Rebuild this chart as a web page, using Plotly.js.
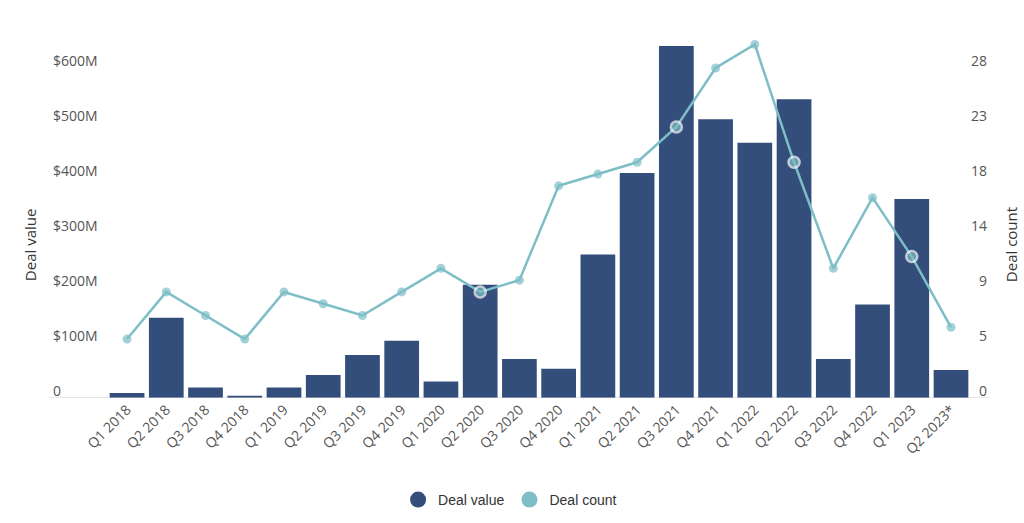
<!DOCTYPE html>
<html>
<head>
<meta charset="utf-8">
<script src="https://cdn.plot.ly/plotly-3.0.1.min.js"></script>
<style>html,body{margin:0;padding:0;background:#fff;}#chart{width:1024px;height:523px;}</style>
</head>
<body>
<div id="chart"></div>
<script>
const quarters = ['Q1 2018','Q2 2018','Q3 2018','Q4 2018','Q1 2019','Q2 2019','Q3 2019','Q4 2019',
  'Q1 2020','Q2 2020','Q3 2020','Q4 2020','Q1 2021','Q2 2021','Q3 2021','Q4 2021',
  'Q1 2022','Q2 2022','Q3 2022','Q4 2022','Q1 2023','Q2 2023*'];
const dealValue = [9, 146, 19, 4, 19, 42, 78, 104, 30, 206, 71, 53, 261, 409, 640, 507, 464, 543, 71, 170, 362, 51];
const dealCount = [5, 9, 7, 5, 9, 8, 7, 9, 11, 9, 10, 18, 19, 20, 23, 28, 30, 20, 11, 17, 12, 6];
const valueTicks = [0, 100, 200, 300, 400, 500, 600];
const valueTickText = ['0', '$100M', '$200M', '$300M', '$400M', '$500M', '$600M'];
const countTickText = ['0', '5', '9', '14', '18', '23', '28'];
const countMax = 28;
const valueMax = 600;

const BAR = '#344e7b';
const TEAL = '#7dbec7';
const yTop = 669.1;
const y2Top = countMax * yTop / valueMax;
const countTicks = valueTicks.map(v => v * countMax / valueMax);

// points that sit inside a bar get a white ring
const inside = dealCount.map((c, i) => c * valueMax / countMax < dealValue[i]);

const traces = [
  {type: 'bar', x: quarters, y: dealValue, marker: {color: BAR}, showlegend: false, hoverinfo: 'x+y'},
  {type: 'scatter', mode: 'lines+markers', x: quarters, y: dealCount, yaxis: 'y2',
   line: {color: TEAL, width: 2.5},
   marker: {color: TEAL, size: inside.map(b => b ? 11 : 9),
            line: {color: '#ffffff', width: inside.map(b => b ? 2.5 : 0)}},
   showlegend: false},
  {type: 'scatter', mode: 'markers', x: [null], y: [null], name: 'Deal value',
   marker: {color: BAR, size: 16, symbol: 'circle'}},
  {type: 'scatter', mode: 'markers', x: [null], y: [null], name: 'Deal count', yaxis: 'y2',
   marker: {color: TEAL, size: 16, symbol: 'circle'}}
];

const tickFont = {family: 'Open Sans, sans-serif', size: 14, color: '#555'};
const layout = {
  width: 1024, height: 523,
  margin: {l: 49, r: 34, t: 30, b: 125},
  paper_bgcolor: '#fff', plot_bgcolor: '#fff',
  bargap: 0.115,
  xaxis: {domain: [0.0621, 0.9794], type: 'category', range: [-0.5, quarters.length - 0.5],
          autorange: false, tickangle: -45, tickfont: tickFont, automargin: false,
          showgrid: false, zeroline: false, showline: false, ticks: '', fixedrange: true},
  yaxis: {range: [0, yTop], autorange: false, tickvals: valueTicks, ticktext: valueTickText, tickfont: tickFont,
          showgrid: false, zeroline: false, showline: false, ticks: '', automargin: false,
          anchor: 'free', position: 0, ticklabelposition: 'inside', ticklabelstandoff: 0,
          ticklabelshift: -7, ticklabeloverflow: 'allow'},
  yaxis2: {range: [0, y2Top], autorange: false, overlaying: 'y', side: 'right', tickvals: countTicks, ticktext: countTickText,
           tickfont: tickFont, showgrid: false, zeroline: false, showline: false, ticks: '', automargin: false,
           anchor: 'free', position: 1, ticklabelposition: 'inside', ticklabelstandoff: 0,
           ticklabelshift: -7, ticklabeloverflow: 'allow'},
  showlegend: true,
  legend: {orientation: 'h', x: 0.49, xanchor: 'center', yref: 'container', y: 0.044, yanchor: 'middle',
           font: {family: 'Liberation Sans, Arial, sans-serif', size: 14, color: '#333'},
           itemwidth: 30, traceorder: 'normal'},
  shapes: [{type: 'line', xref: 'paper', yref: 'y', x0: 0, x1: 1, y0: 0, y1: 0,
            line: {color: '#cccccc', width: 1}}],
  annotations: [
    {text: 'Deal value', xref: 'paper', yref: 'paper', x: -0.0202, y: 0.418, textangle: -90,
     xanchor: 'center', yanchor: 'middle',
     showarrow: false, font: {family: 'Open Sans, sans-serif', size: 15, color: '#333'}},
    {text: 'Deal count', xref: 'paper', yref: 'paper', x: 1.0223, y: 0.418, textangle: -90,
     xanchor: 'center', yanchor: 'middle',
     showarrow: false, font: {family: 'Open Sans, sans-serif', size: 15, color: '#333'}}
  ]
};
Plotly.newPlot('chart', traces, layout, {displayModeBar: false, staticPlot: true});
</script>
</body>
</html>
